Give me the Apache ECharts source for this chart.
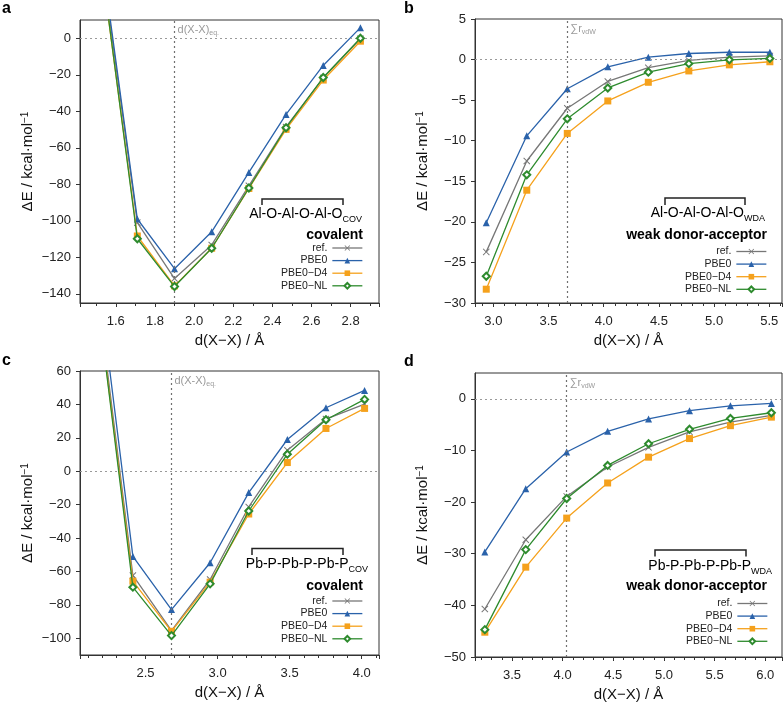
<!DOCTYPE html>
<html><head><meta charset="utf-8">
<script src="https://cdn.jsdelivr.net/npm/echarts@6/dist/echarts.min.js"></script>
<style>html,body{margin:0;padding:0;background:#fff}#c{width:784px;height:706px}</style>
</head><body><div id="c"></div>
<script>
// ---- data ----
const methods = ['ref.', 'PBE0', 'PBE0−D4', 'PBE0−NL'];

// a: Al-O-Al-O-Al-O covalent
const distA = [1.52, 1.71, 1.90, 2.09, 2.28, 2.47, 2.66, 2.85];
const refA  = [48, -101, -131.6, -113.2, -80.8, -48.6, -21.7, -0.3];
const pbe0A = [51, -99, -126.2, -106, -73.5, -41.7, -14.9, 5.8];
const d4A   = [45, -108.3, -135.6, -115, -82.3, -49.9, -22.9, -1.6];
const nlA   = [46, -109.8, -136, -115, -82, -49, -21.5, 0];
const eqA = 1.90;

// b: Al-O-Al-O-Al-O weak donor-acceptor
const distB = [2.936, 3.303, 3.67, 4.037, 4.404, 4.771, 5.138, 5.505];
const refB  = [-23.7, -12.5, -6.0, -2.7, -1.0, -0.1, 0.3, 0.45];
const pbe0B = [-20.1, -9.4, -3.6, -0.9, 0.3, 0.75, 0.9, 0.9];
const d4B   = [-28.3, -16.1, -9.1, -5.1, -2.8, -1.4, -0.65, -0.27];
const nlB   = [-26.7, -14.2, -7.3, -3.5, -1.55, -0.5, -0.03, 0.14];
const vdwB = 3.67;

// c: Pb-P-Pb-P-Pb-P covalent
const distC = [2.144, 2.412, 2.68, 2.948, 3.216, 3.484, 3.752, 4.02];
const refC  = [123, -62.4, -95.4, -64.8, -21.4, 12.6, 31.2, 40.2];
const pbe0C = [135, -51, -82.8, -54.8, -12.8, 19, 38, 48.4];
const d4C   = [119, -65.8, -95.8, -66.4, -25.6, 5.2, 25.6, 37.6];
const nlC   = [119, -69.4, -98.4, -67.4, -23.8, 10.2, 30.8, 43];
const eqC = 2.68;

// d: Pb-P-Pb-P-Pb-P weak donor-acceptor
const distD = [3.232, 3.636, 4.04, 4.444, 4.848, 5.252, 5.656, 6.06];
const refD  = [-40.7, -27.3, -18.9, -13.2, -9.4, -6.4, -4.5, -3.2];
const pbe0D = [-29.65, -17.4, -10.3, -6.3, -3.9, -2.3, -1.36, -0.9];
const d4D   = [-45.2, -32.6, -23.1, -16.3, -11.3, -7.7, -5.2, -3.55];
const nlD   = [-44.7, -29.2, -19.3, -12.9, -8.7, -5.9, -3.8, -2.7];
const vdwD = 4.04;

// ---- styling ----
const FONT = 'Liberation Sans, Arial, sans-serif';
const styles = [
  {color: '#777777', symbol: 'path://M1,0L5,4L9,0L10,1L6,5L10,9L9,10L5,6L1,10L0,9L4,5L0,1Z', size: 7},
  {color: '#2a62aa', symbol: 'triangle', size: 7},
  {color: '#f5a11c', symbol: 'rect', size: 7},
  {color: '#2e8b2e', symbol: 'emptyDiamond', size: 7}
];

const panels = [
  {dist: distA, vals: [refA, pbe0A, d4A, nlA], vline: eqA,
   grid: {left: 80, top: 20, width: 299, height: 283},
   x: {min: 1.417, max: 2.945, step: 0.2, minor: 2},
   y: {min: -145, max: 10, step: 20, showMax: false, showMin: false},
   vlabel: '{m|d(X-X)}{s|eq.}',
   legend: {right: 421, top: 242}},
  {dist: distB, vals: [refB, pbe0B, d4B, nlB], vline: vdwB,
   grid: {left: 475, top: 19, width: 307, height: 284},
   x: {min: 2.834, max: 5.615, step: 0.5, minor: 5},
   y: {min: -30, max: 5, step: 5, fixed: true, showMax: true, showMin: true},
   vlabel: '{m|∑r}{s|vdW}',
   legend: {right: 17, top: 245.5}},
  {dist: distC, vals: [refC, pbe0C, d4C, nlC], vline: eqC,
   grid: {left: 80, top: 371, width: 299, height: 284},
   x: {min: 2.045, max: 4.12, step: 0.5, minor: 5},
   y: {min: -110, max: 60, step: 20, showMax: true, showMin: false},
   vlabel: '{m|d(X-X)}{s|eq.}',
   legend: {right: 421, top: 595}},
  {dist: distD, vals: [refD, pbe0D, d4D, nlD], vline: vdwD,
   grid: {left: 475, top: 373, width: 307, height: 284},
   x: {min: 3.135, max: 6.165, step: 0.5, minor: 5},
   y: {min: -50, max: 5, step: 10, fixed: true, showMax: false, showMin: true},
   vlabel: '{m|∑r}{s|vdW}',
   legend: {right: 16, top: 597.5}}
];

const fmtMinus = v => String(v).replace('-', '−');

const grids = [], xAxes = [], yAxes = [], series = [], legends = [];
panels.forEach((p, i) => {
  grids.push(Object.assign({show: true, borderColor: '#333', borderWidth: 1, backgroundColor: 'transparent'}, p.grid));
  xAxes.push({
    type: 'value', gridIndex: i, min: p.x.min, max: p.x.max,
    minInterval: p.x.step, maxInterval: p.x.step, splitNumber: 6,
    name: 'd(X−X) / Å', nameLocation: 'middle', nameGap: 30,
    nameTextStyle: {fontFamily: FONT, fontSize: 15, color: '#111'},
    axisLine: {show: true, onZero: false, lineStyle: {color: '#333', width: 1}},
    axisTick: {show: true, inside: false, length: 4, lineStyle: {color: '#333'}},
    minorTick: {show: true, splitNumber: p.x.minor, length: 3, lineStyle: {color: '#333'}},
    splitLine: {show: false}, minorSplitLine: {show: false},
    axisLabel: {fontFamily: FONT, fontSize: 13, color: '#222', margin: 12,
      showMinLabel: false, showMaxLabel: false,
      formatter: v => v.toFixed(1)}
  });
  const ya = {
    type: 'value', gridIndex: i, min: p.y.min, max: p.y.max,
    name: '{a|ΔE / kcal·mol}{b|−1}', nameLocation: 'middle', nameGap: 45,
    nameTextStyle: {fontFamily: FONT, fontSize: 15, color: '#111',
      rich: {a: {fontFamily: FONT, fontSize: 15, color: '#111'},
             b: {fontFamily: FONT, fontSize: 10, color: '#111', verticalAlign: 'top'}}},
    axisLine: {show: true, onZero: false, lineStyle: {color: '#333', width: 1}},
    axisTick: {show: true, inside: false, length: 4, lineStyle: {color: '#333'}},
    splitLine: {show: false},
    axisLabel: {fontFamily: FONT, fontSize: 13, color: '#222', margin: 9,
      showMinLabel: p.y.showMin, showMaxLabel: p.y.showMax,
      formatter: v => fmtMinus(v)}
  };
  if (p.y.fixed) ya.interval = p.y.step; else { ya.minInterval = p.y.step; ya.maxInterval = p.y.step; ya.splitNumber = 8; }
  yAxes.push(ya);

  p.vals.forEach((arr, k) => {
    const st = styles[k];
    const s = {
      type: 'line', name: methods[k], xAxisIndex: i, yAxisIndex: i,
      data: p.dist.map((d, j) => [d, arr[j]]),
      symbol: st.symbol, symbolSize: st.size, showAllSymbol: true,
      lineStyle: {color: st.color, width: 1.3},
      itemStyle: {color: st.color, borderColor: st.color, borderWidth: k === 3 ? 1.3 : 0},
      emphasis: {disabled: true}, clip: true, z: 3 + k, animation: false
    };
    if (k === 0) {
      s.markLine = {
        silent: true, symbol: 'none', animation: false, label: {show: false},
        data: [
          {yAxis: 0, lineStyle: {color: '#9a9a9a', type: [2, 3], width: 1.2}},
          {xAxis: p.vline, lineStyle: {color: '#707070', type: [2, 3], width: 1.2}}
        ]
      };
      s.markPoint = {
        silent: true, symbol: 'circle', symbolSize: 0, animation: false,
        data: [{coord: [p.vline, p.y.max],
          label: {show: true, position: [3, 3], formatter: p.vlabel,
            rich: {m: {fontFamily: FONT, fontSize: 11, color: '#9a9a9a', lineHeight: 14},
                   s: {fontFamily: FONT, fontSize: 7, color: '#9a9a9a', verticalAlign: 'bottom', lineHeight: 8}}}}]
      };
    }
    series.push(s);
  });

  legends.push({
    data: methods, orient: 'vertical', align: 'right', right: p.legend.right, top: p.legend.top,
    itemWidth: 30, itemHeight: 7, itemGap: 0.6, padding: 0, selectedMode: false,
    lineStyle: {width: 1.3},
    textStyle: {fontFamily: FONT, fontSize: 10.5, color: '#222', lineHeight: 12}
  });
});

// annotations: panel letters, bracket, structure label, class label
function bracket(x1, x2, y, leg) {
  return {type: 'polyline', silent: true, shape: {points: [[x1, y + leg], [x1, y], [x2, y], [x2, y + leg]]},
    style: {stroke: '#222', lineWidth: 1.5, fill: null}};
}
function rtext(x, y, text, rich, align) {
  return {type: 'text', silent: true, x: x, y: y,
    style: {text: text, rich: rich, align: align || 'right', verticalAlign: 'middle'}};
}
const titleRich = {m: {fontFamily: FONT, fontSize: 14, color: '#111', lineHeight: 20},
                   s: {fontFamily: FONT, fontSize: 9, color: '#111', verticalAlign: 'bottom', lineHeight: 9}};
const boldRich = {b: {fontFamily: FONT, fontSize: 14, fontWeight: 'bold', color: '#111'}};
const letterRich = {l: {fontFamily: FONT, fontSize: 16, fontWeight: 'bold', color: '#111'}};

const graphic = [
  rtext(2, 9, '{l|a}', letterRich, 'left'),
  rtext(404, 9, '{l|b}', letterRich, 'left'),
  rtext(2, 361, '{l|c}', letterRich, 'left'),
  rtext(404, 362, '{l|d}', letterRich, 'left'),
  bracket(262, 343, 199, 6),
  rtext(362, 214, '{m|Al-O-Al-O-Al-O}{s|COV}', titleRich),
  rtext(363, 235, '{b|covalent}', boldRich),
  bracket(665, 745, 198, 7),
  rtext(765, 213, '{m|Al-O-Al-O-Al-O}{s|WDA}', titleRich),
  rtext(767, 235, '{b|weak donor-acceptor}', boldRich),
  bracket(252, 343, 548.5, 6.5),
  rtext(368, 564, '{m|Pb-P-Pb-P-Pb-P}{s|COV}', titleRich),
  rtext(363, 586, '{b|covalent}', boldRich),
  bracket(655, 746, 550, 6.5),
  rtext(772, 566, '{m|Pb-P-Pb-P-Pb-P}{s|WDA}', titleRich),
  rtext(767, 586.5, '{b|weak donor-acceptor}', boldRich)
];

const chart = echarts.init(document.getElementById('c'), null, {renderer: 'canvas'});
chart.setOption({
  animation: false, backgroundColor: '#fff',
  grid: grids, xAxis: xAxes, yAxis: yAxes, series: series, legend: legends, graphic: graphic
});
</script></body></html>
